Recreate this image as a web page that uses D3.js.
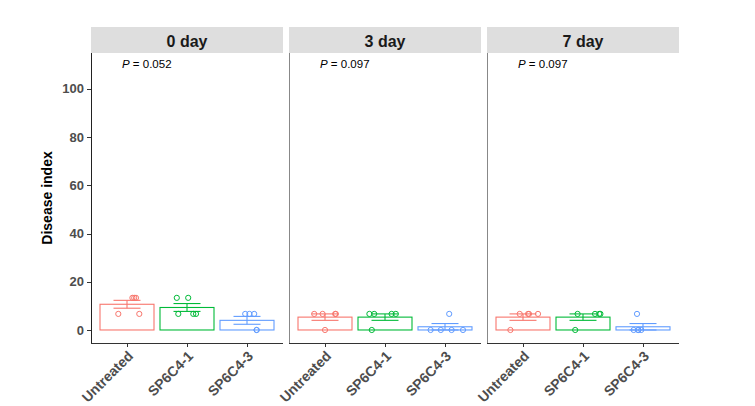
<!DOCTYPE html>
<html><head><meta charset="utf-8">
<script src="https://cdn.jsdelivr.net/npm/d3@7"></script>
<style>body{margin:0;background:#fff}svg{font-family:"Liberation Sans",Arial,sans-serif}</style>
</head><body><svg id="c" width="755" height="406"></svg>
<script>
const days = ["0 day", "3 day", "7 day"];
const pValues = ["0.052", "0.097", "0.097"];
const groups = ["Untreated", "SP6C4-1", "SP6C4-3"];
const colors = ["#F8766D", "#00BA38", "#619CFF"];
const yTicks = [0, 20, 40, 60, 80, 100];
// individual disease index values per day, per group
const values = [
  [[13.33, 13.33, 13.33, 6.67, 6.67], [13.33, 13.33, 6.67, 6.67, 6.67], [6.67, 6.67, 6.67, 0, 0]],
  [[6.67, 6.67, 6.67, 6.67, 0], [6.67, 6.67, 6.67, 6.67, 0], [6.67, 0, 0, 0, 0]],
  [[6.67, 6.67, 6.67, 6.67, 0], [6.67, 6.67, 6.67, 6.67, 0], [6.67, 0, 0, 0, 0]]
];
// jitter offsets (category units)
const jitter = [
  [[0.09, 0.12, 0.15, -0.145, 0.205], [-0.17, 0.02, -0.145, 0.105, 0.15], [-0.03, 0.04, 0.12, 0.16, 0.16]],
  [[-0.18, -0.04, 0.18, 0.17, 0.0], [-0.26, -0.18, 0.11, 0.18, -0.22], [0.07, -0.24, -0.07, 0.11, 0.3]],
  [[-0.055, 0.085, 0.1, 0.25, -0.21], [-0.09, 0.2, 0.27, 0.29, -0.13], [-0.1, -0.155, -0.08, -0.03, -0.08]]
];

const svg = d3.select("#c");
const panelLefts = [91, 289, 487];
const panelW = 192, pTop = 53, pBottom = 343;
const y = d3.scaleLinear().domain([-5.4, 114.9]).range([pBottom, pTop]);

const mean = a => d3.mean(a);
const se = a => d3.deviation(a) / Math.sqrt(a.length);

days.forEach((day, di) => {
  const L = panelLefts[di];
  const x = d3.scaleLinear().domain([-0.6, 2.6]).range([L, L + panelW]);
  const g = svg.append("g");
  // strip
  g.append("rect").attr("x", L).attr("y", 27).attr("width", panelW).attr("height", 26).attr("fill", "#dedede");
  g.append("text").attr("x", L + panelW / 2).attr("y", 46.5).attr("text-anchor", "middle")
    .attr("font-size", 16).attr("font-weight", "bold").attr("fill", "#1a1a1a").text(day);
  // P text
  const pt = g.append("text").attr("x", L + 31).attr("y", 68).attr("font-size", 11.5).attr("fill", "#000");
  pt.append("tspan").attr("font-style", "italic").text("P");
  pt.append("tspan").text(" = " + pValues[di]);

  groups.forEach((grp, gi) => {
    const v = values[di][gi];
    const m = mean(v), s = se(v);
    const c = colors[gi];
    const bw = x(0.45) - x(0);
    g.append("rect").attr("x", x(gi) - bw).attr("y", y(m)).attr("width", 2 * bw)
      .attr("height", y(0) - y(m)).attr("fill", "none").attr("stroke", c).attr("stroke-width", 1.1);
    const ew = x(0.225) - x(0);
    g.append("line").attr("x1", x(gi)).attr("x2", x(gi)).attr("y1", y(m - s)).attr("y2", y(m + s)).attr("stroke", c).attr("stroke-width", 1.1);
    [m - s, m + s].forEach(e => g.append("line").attr("x1", x(gi) - ew).attr("x2", x(gi) + ew)
      .attr("y1", y(e)).attr("y2", y(e)).attr("stroke", c).attr("stroke-width", 1.1));
    v.forEach((val, k) => {
      g.append("circle").attr("cx", x(gi + jitter[di][gi][k])).attr("cy", y(val)).attr("r", 2.6)
        .attr("fill", "none").attr("stroke", c).attr("stroke-width", 1);
    });
  });

  // axes lines
  g.append("line").attr("x1", L + 0.5).attr("x2", L + 0.5).attr("y1", pTop).attr("y2", pBottom + 0.5)
    .attr("stroke", di === 0 ? "#222" : "#888").attr("stroke-width", 1);
  g.append("line").attr("x1", L).attr("x2", L + panelW).attr("y1", pBottom + 0.5).attr("y2", pBottom + 0.5)
    .attr("stroke", "#333").attr("stroke-width", 1);

  // x ticks & labels
  groups.forEach((grp, gi) => {
    const tx = Math.round(x(gi)) + 0.5;
    g.append("line").attr("x1", tx).attr("x2", tx).attr("y1", pBottom).attr("y2", pBottom + 4).attr("stroke", "#333");
    g.append("text").attr("transform", `translate(${x(gi)},${pBottom + 7}) rotate(-45)`)
      .attr("text-anchor", "end").attr("dy", "0.7em").attr("font-size", 14).attr("font-weight", "bold")
      .attr("fill", "#4d4d4d").text(grp);
  });
});

// y axis
const ya = svg.append("g");
yTicks.forEach(t => {
  const ty = Math.round(y(t)) + 0.5;
  ya.append("line").attr("x1", 87).attr("x2", 91).attr("y1", ty).attr("y2", ty).attr("stroke", "#333");
  ya.append("text").attr("x", 84).attr("y", y(t)).attr("dy", "0.35em").attr("text-anchor", "end")
    .attr("font-size", 13).attr("font-weight", "bold").attr("fill", "#4d4d4d").text(t);
});
svg.append("text").attr("transform", `translate(52,${(pTop + pBottom) / 2}) rotate(-90)`)
  .attr("text-anchor", "middle").attr("font-size", 14).attr("font-weight", "bold").attr("fill", "#000")
  .text("Disease index");
</script></body></html>
